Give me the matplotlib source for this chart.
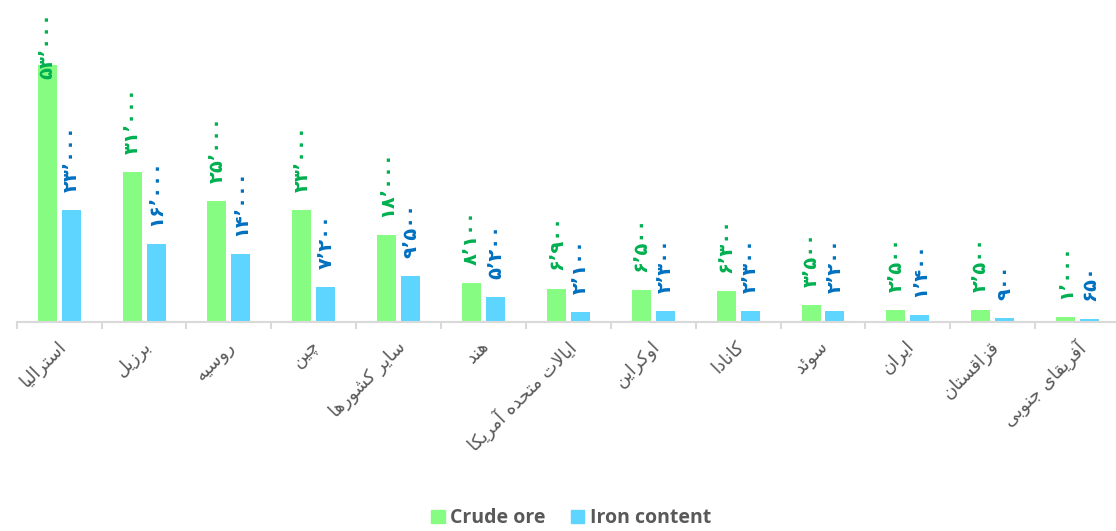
import matplotlib.pyplot as plt
from matplotlib.patches import Patch
from matplotlib.transforms import ScaledTranslation

# داده‌ها
countries = ['استرالیا', 'برزیل', 'روسیه', 'چین', 'سایر کشورها', 'هند',
             'ایالات متحده آمریکا', 'اوکراین', 'کانادا', 'سوئد', 'ایران',
             'قزاقستان', 'آفریقای جنوبی']
crude_ore = [53000, 31000, 25000, 23000, 18000, 8100, 6900, 6500, 6300,
             3500, 2500, 2500, 1000]
iron_content = [23000, 16000, 14000, 7200, 9500, 5200, 2100, 2300, 2300,
                2200, 1400, 900, 650]
series_names = ['Crude ore', 'Iron content']

# matplotlib 3.10 does no Arabic shaping, so map letters to presentation forms
# (isolated, final, initial, medial)
FORMS = {
    'ا': ('\uFE8D', '\uFE8E', None, None),
    'آ': ('\uFE81', '\uFE82', None, None),
    'د': ('\uFEA9', '\uFEAA', None, None),
    'ر': ('\uFEAD', '\uFEAE', None, None),
    'ز': ('\uFEAF', '\uFEB0', None, None),
    'و': ('\uFEED', '\uFEEE', None, None),
    'ب': ('\uFE8F', '\uFE90', '\uFE91', '\uFE92'),
    'ت': ('\uFE95', '\uFE96', '\uFE97', '\uFE98'),
    'ج': ('\uFE9D', '\uFE9E', '\uFE9F', '\uFEA0'),
    'ح': ('\uFEA1', '\uFEA2', '\uFEA3', '\uFEA4'),
    'س': ('\uFEB1', '\uFEB2', '\uFEB3', '\uFEB4'),
    'ش': ('\uFEB5', '\uFEB6', '\uFEB7', '\uFEB8'),
    'ف': ('\uFED1', '\uFED2', '\uFED3', '\uFED4'),
    'ق': ('\uFED5', '\uFED6', '\uFED7', '\uFED8'),
    'ل': ('\uFEDD', '\uFEDE', '\uFEDF', '\uFEE0'),
    'م': ('\uFEE1', '\uFEE2', '\uFEE3', '\uFEE4'),
    'ن': ('\uFEE5', '\uFEE6', '\uFEE7', '\uFEE8'),
    'ه': ('\uFEE9', '\uFEEA', '\uFEEB', '\uFEEC'),
    'ئ': ('\uFE89', '\uFE8A', '\uFE8B', '\uFE8C'),
    'ی': ('\uFBFC', '\uFBFD', '\uFBFE', '\uFBFF'),
    'ک': ('\uFB8E', '\uFB8F', '\uFB90', '\uFB91'),
    'چ': ('\uFB7A', '\uFB7B', '\uFB7C', '\uFB7D'),
}
LAM_ALEF = {'ا': ('\uFEFB', '\uFEFC'), 'آ': ('\uFEF5', '\uFEF6')}


def dual(c):
    return c in FORMS and FORMS[c][2] is not None


def shape(text):
    out = []
    i = 0
    while i < len(text):
        c = text[i]
        prev = text[i - 1] if i > 0 else ' '
        joins_prev = dual(prev) and c in FORMS
        if c == 'ل' and i + 1 < len(text) and text[i + 1] in LAM_ALEF:
            out.append(LAM_ALEF[text[i + 1]][1 if joins_prev else 0])
            i += 2
            continue
        if c not in FORMS:
            out.append(c)
            i += 1
            continue
        nxt = text[i + 1] if i + 1 < len(text) else ' '
        joins_next = dual(c) and nxt in FORMS
        iso, fin, ini, med = FORMS[c]
        if joins_prev and joins_next:
            out.append(med)
        elif joins_prev:
            out.append(fin)
        elif joins_next:
            out.append(ini)
        else:
            out.append(iso)
        i += 1
    return ''.join(out)[::-1]


FA = str.maketrans('0123456789,', '۰۱۲۳۴۵۶۷۸۹٬')


def fa_num(v):
    return f'{v:,}'.translate(FA)


green, blue = '#86FC82', '#5DD5FF'
green_txt, blue_txt = '#00B050', '#0070C0'
gray = '#595959'

fig = plt.figure(figsize=(11.16, 5.31), dpi=100)
ax = fig.add_axes([0.015, 0.3936, 0.9886, 0.5838])

x = list(range(len(countries)))
w = 0.224
off = 0.141
ax.bar([i - off for i in x], crude_ore, w, color=green)
ax.bar([i + off for i in x], iron_content, w, color=blue)

ax.set_xlim(-0.5, len(countries) - 0.5)
ax.set_ylim(0, 63930)
ax.set_yticks([])
for s in ['top', 'right', 'left']:
    ax.spines[s].set_visible(False)
ax.spines['bottom'].set_color('#D9D9D9')
ax.spines['bottom'].set_linewidth(1.5)

ax.set_xticks(x)
ax.set_xticklabels([shape(c) for c in countries], rotation=45, ha='right',
                   va='top', rotation_mode='anchor', fontsize=13,
                   color=gray, family='DejaVu Sans')
ax.tick_params(axis='x', which='major', length=0, pad=11)
shift = ScaledTranslation(-2 / 72, 0, fig.dpi_scale_trans)
for lab in ax.get_xticklabels():
    lab.set_transform(lab.get_transform() + shift)
ax.set_xticks([i - 0.5 for i in range(len(countries) + 1)], minor=True)
ax.tick_params(axis='x', which='minor', length=5, width=1.5, color='#D9D9D9')

labels = []
for vals, dx, col in [(crude_ore, -off, green_txt), (iron_content, off, blue_txt)]:
    for i, v in enumerate(vals):
        t = ax.annotate(fa_num(v), (i + dx, v), xytext=(0, 13),
                        textcoords='offset points', rotation=90,
                        ha='center', va='bottom', fontsize=14,
                        fontweight='bold', color=col, family='DejaVu Sans')
        labels.append(t)

# keep labels inside the plot area, like the original
fig.canvas.draw()
r = fig.canvas.get_renderer()
limit = ax.get_window_extent(r).y1
for t in labels:
    bb = t.get_window_extent(r)
    if bb.y1 > limit:
        dy = (bb.y1 - limit) * 72 / fig.dpi
        t.xyann = (0, t.xyann[1] - dy)

handles = [Patch(color=green, label=series_names[0]),
           Patch(color=blue, label=series_names[1])]
leg = fig.legend(handles=handles, loc='lower center', bbox_to_anchor=(0.512, -0.028),
                 ncol=2, frameon=False, handlelength=0.68, handleheight=0.68,
                 handletextpad=0.3, columnspacing=1.3,
                 prop={'family': 'Open Sans', 'weight': 'bold', 'size': 14})
for t in leg.get_texts():
    t.set_color(gray)

fig.savefig('out.png', dpi=100)
